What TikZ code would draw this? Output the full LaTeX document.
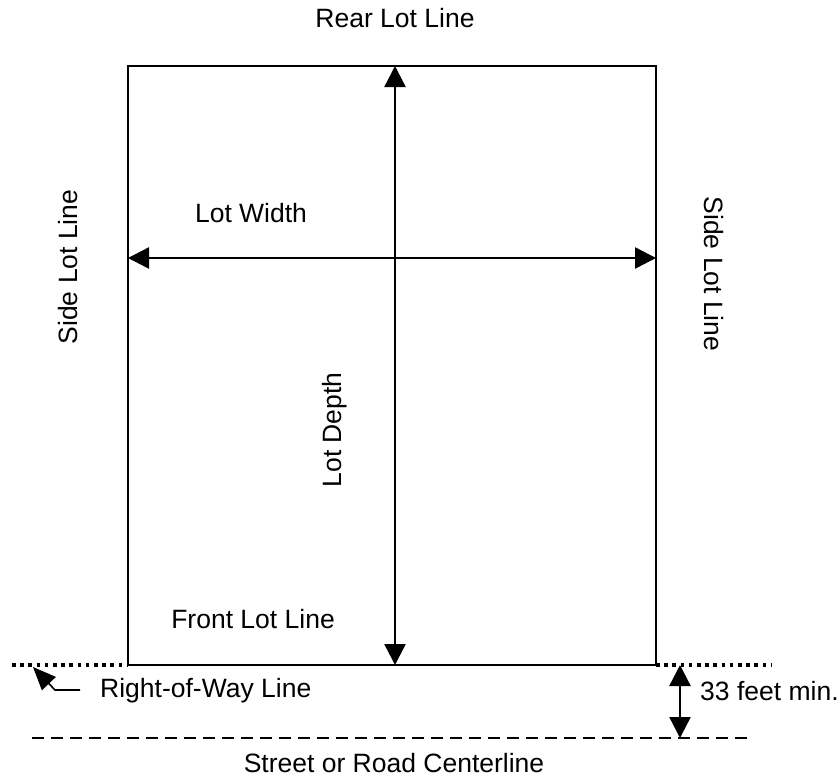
\documentclass[tikz,border=0pt]{standalone}
\usepackage{fontspec}
\setmainfont{Liberation Sans}
\usetikzlibrary{arrows.meta}
\begin{document}
\begin{tikzpicture}[x=1pt,y=-1pt,
  lbl/.style={font=\fontsize{26.5}{30}\selectfont, inner sep=0pt},
  lotline/.style={line width=2pt},
  dim/.style={line width=2.4pt, {Triangle[length=21pt,width=21pt]}-{Triangle[length=21pt,width=21pt]}},
  rowline/.style={line width=3.6pt, dash pattern=on 3.6pt off 4.6pt},
  centerline/.style={line width=2.2pt, dash pattern=on 12pt off 7pt},
  leader/.style={line width=1.6pt, -{Triangle[length=23pt,width=19pt]}}]
\useasboundingbox (0,0) rectangle (840,776);
% lot corners
\coordinate (tl) at (128,66);
\coordinate (tr) at (656,66);
\coordinate (bl) at (128,665);
\coordinate (br) at (656,665);
\draw[lotline] (tl) rectangle (br);
% dimension arrows
\coordinate (dtop) at (395,66);
\coordinate (dbot) at (395,665);
\coordinate (wl) at (128,258);
\coordinate (wr) at (656,258);
\draw[dim] (dtop) -- (dbot);
\draw[dim] (wl) -- (wr);
% right-of-way line
\coordinate (rowL) at (12,665);
\coordinate (rowR) at (772,665);
\draw[rowline] (rowL) -- (bl);
\draw[rowline] (br) -- (rowR);
% centerline
\coordinate (clL) at (32,738);
\coordinate (clR) at (748,738);
\draw[centerline] (clL) -- (clR);
% 33 feet arrow
\coordinate (ft1) at (680,665);
\coordinate (ft2) at (680,738);
\draw[dim] (ft1) -- (ft2);
% leader
\coordinate (ldA) at (80,690);
\coordinate (ldB) at (55,690);
\coordinate (ldC) at (33,667);
\draw[leader] (ldA) -- (ldB) -- (ldC);
% labels
\node[lbl, anchor=base] (rear) at (395,28) {Rear Lot Line};
\node[lbl, rotate=90, anchor=base] (sideL) at (77,267) {Side Lot Line};
\node[lbl, rotate=-90, anchor=base] (sideR) at (704,274) {Side Lot Line};
\node[lbl, anchor=base] (width) at (251,222) {Lot Width};
\node[lbl, rotate=90, anchor=base] (depth) at (341,430) {Lot Depth};
\node[lbl, anchor=base east] (front) at (335,628) {Front Lot Line};
\node[lbl, anchor=base west] (row) at (100,697) {Right-of-Way Line};
\node[lbl, anchor=base west] (feet) at (700,700) {33 feet min.};
\node[lbl, anchor=base] (street) at (394,772) {Street or Road Centerline};
\end{tikzpicture}
\end{document}
